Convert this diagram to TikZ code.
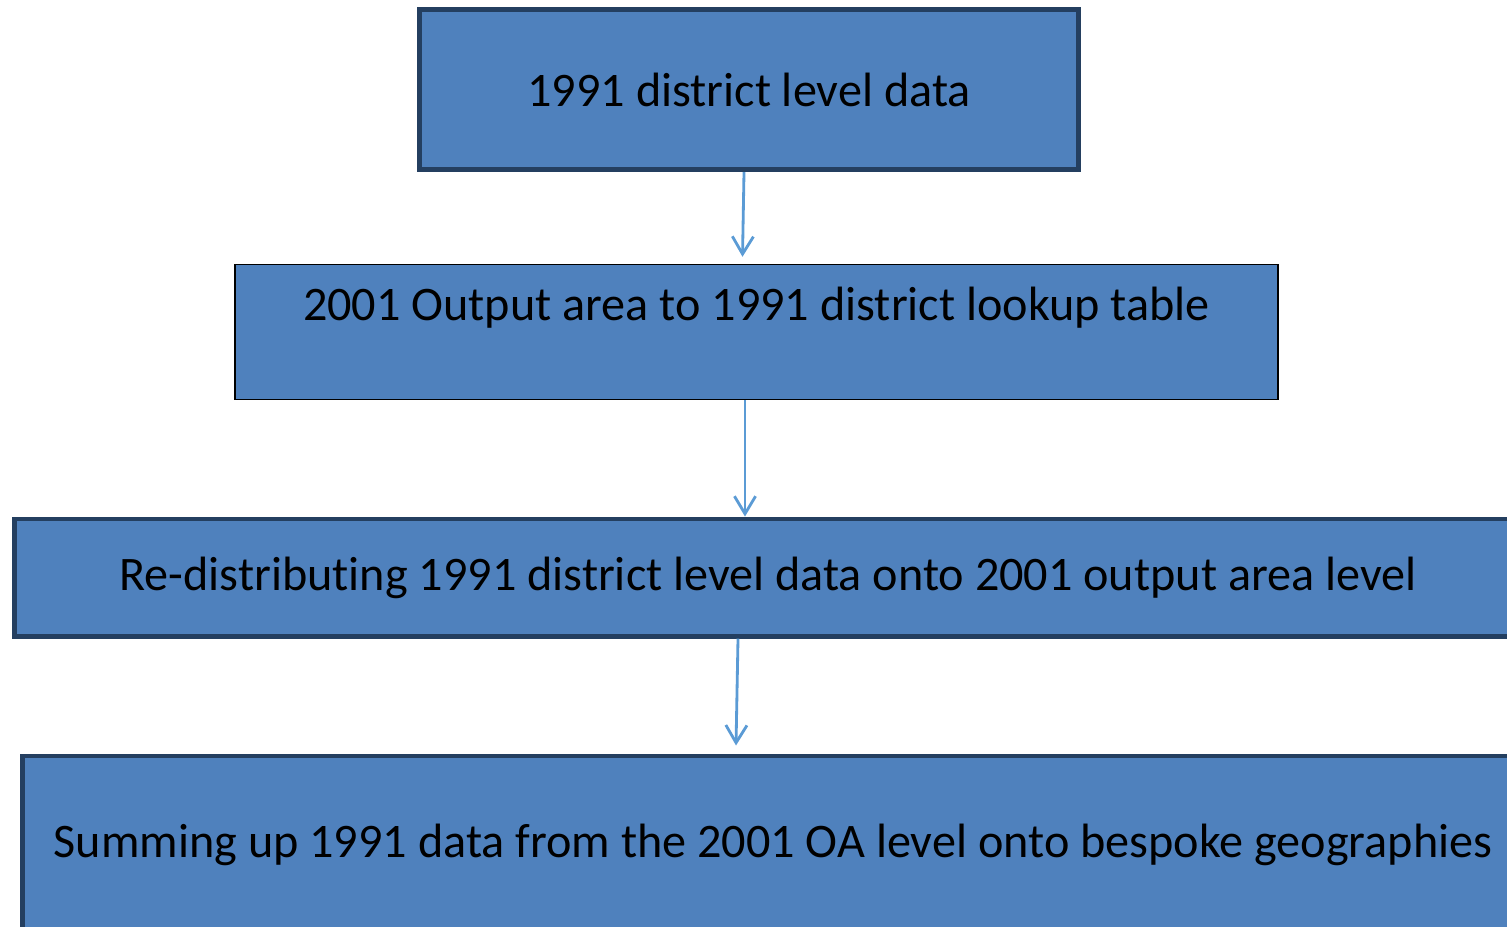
\documentclass[tikz,border=0pt]{standalone}
\usepackage{fontspec}
\setmainfont{Carlito}[Ligatures=NoCommon]
\usetikzlibrary{arrows.meta, calc}
\definecolor{boxfill}{HTML}{4F81BD}
\definecolor{boxline}{HTML}{243F60}
\definecolor{arrowblue}{HTML}{5B9BD5}

\begin{document}
\begin{tikzpicture}[x=0.01cm, y=-0.01cm,
  stage/.style={draw=boxline, line width=1.4pt, fill=boxfill, inner sep=0pt,
    font=\fontsize{13.7}{16}\selectfont, align=center},
  flow/.style={draw=arrowblue, line width=0.8pt, -{Straight Barb[length=5pt,width=6pt]}}]
\clip (0,0) rectangle (1507,926);

% Processing steps
\node[stage, minimum width=6.58cm, minimum height=1.6cm] (s1) at (749,89.5) {1991 district level data};
\node[stage, draw=black, line width=0.4pt, minimum width=10.42cm, minimum height=1.35cm] (s2) at (756.5,332)
  {2001 Output area to 1991 district lookup table\\~};
\node[stage, minimum width=15.06cm, minimum height=1.17cm] (s3) at (768,577.5)
  {\raisebox{-1pt}{Re-distributing 1991 district level data onto 2001 output area level}};
\node[stage, minimum width=15.0cm, minimum height=1.78cm] (s4) at (773,845)
  {Summing up 1991 data from the 2001 OA level onto bespoke geographies};

% Arrows between steps
\draw[flow] ($(s1.south)+(-5,0)$) -- ($(s2.north)+(-14,-7)$);
\draw[flow] ($(s2.south)+(-11.5,0)$) -- ($(s3.north)+(-23,0)$);
\draw[flow] ($(s3.south)+(-30,0)$) -- ($(s4.north)+(-37,-8)$);
\end{tikzpicture}
\end{document}
